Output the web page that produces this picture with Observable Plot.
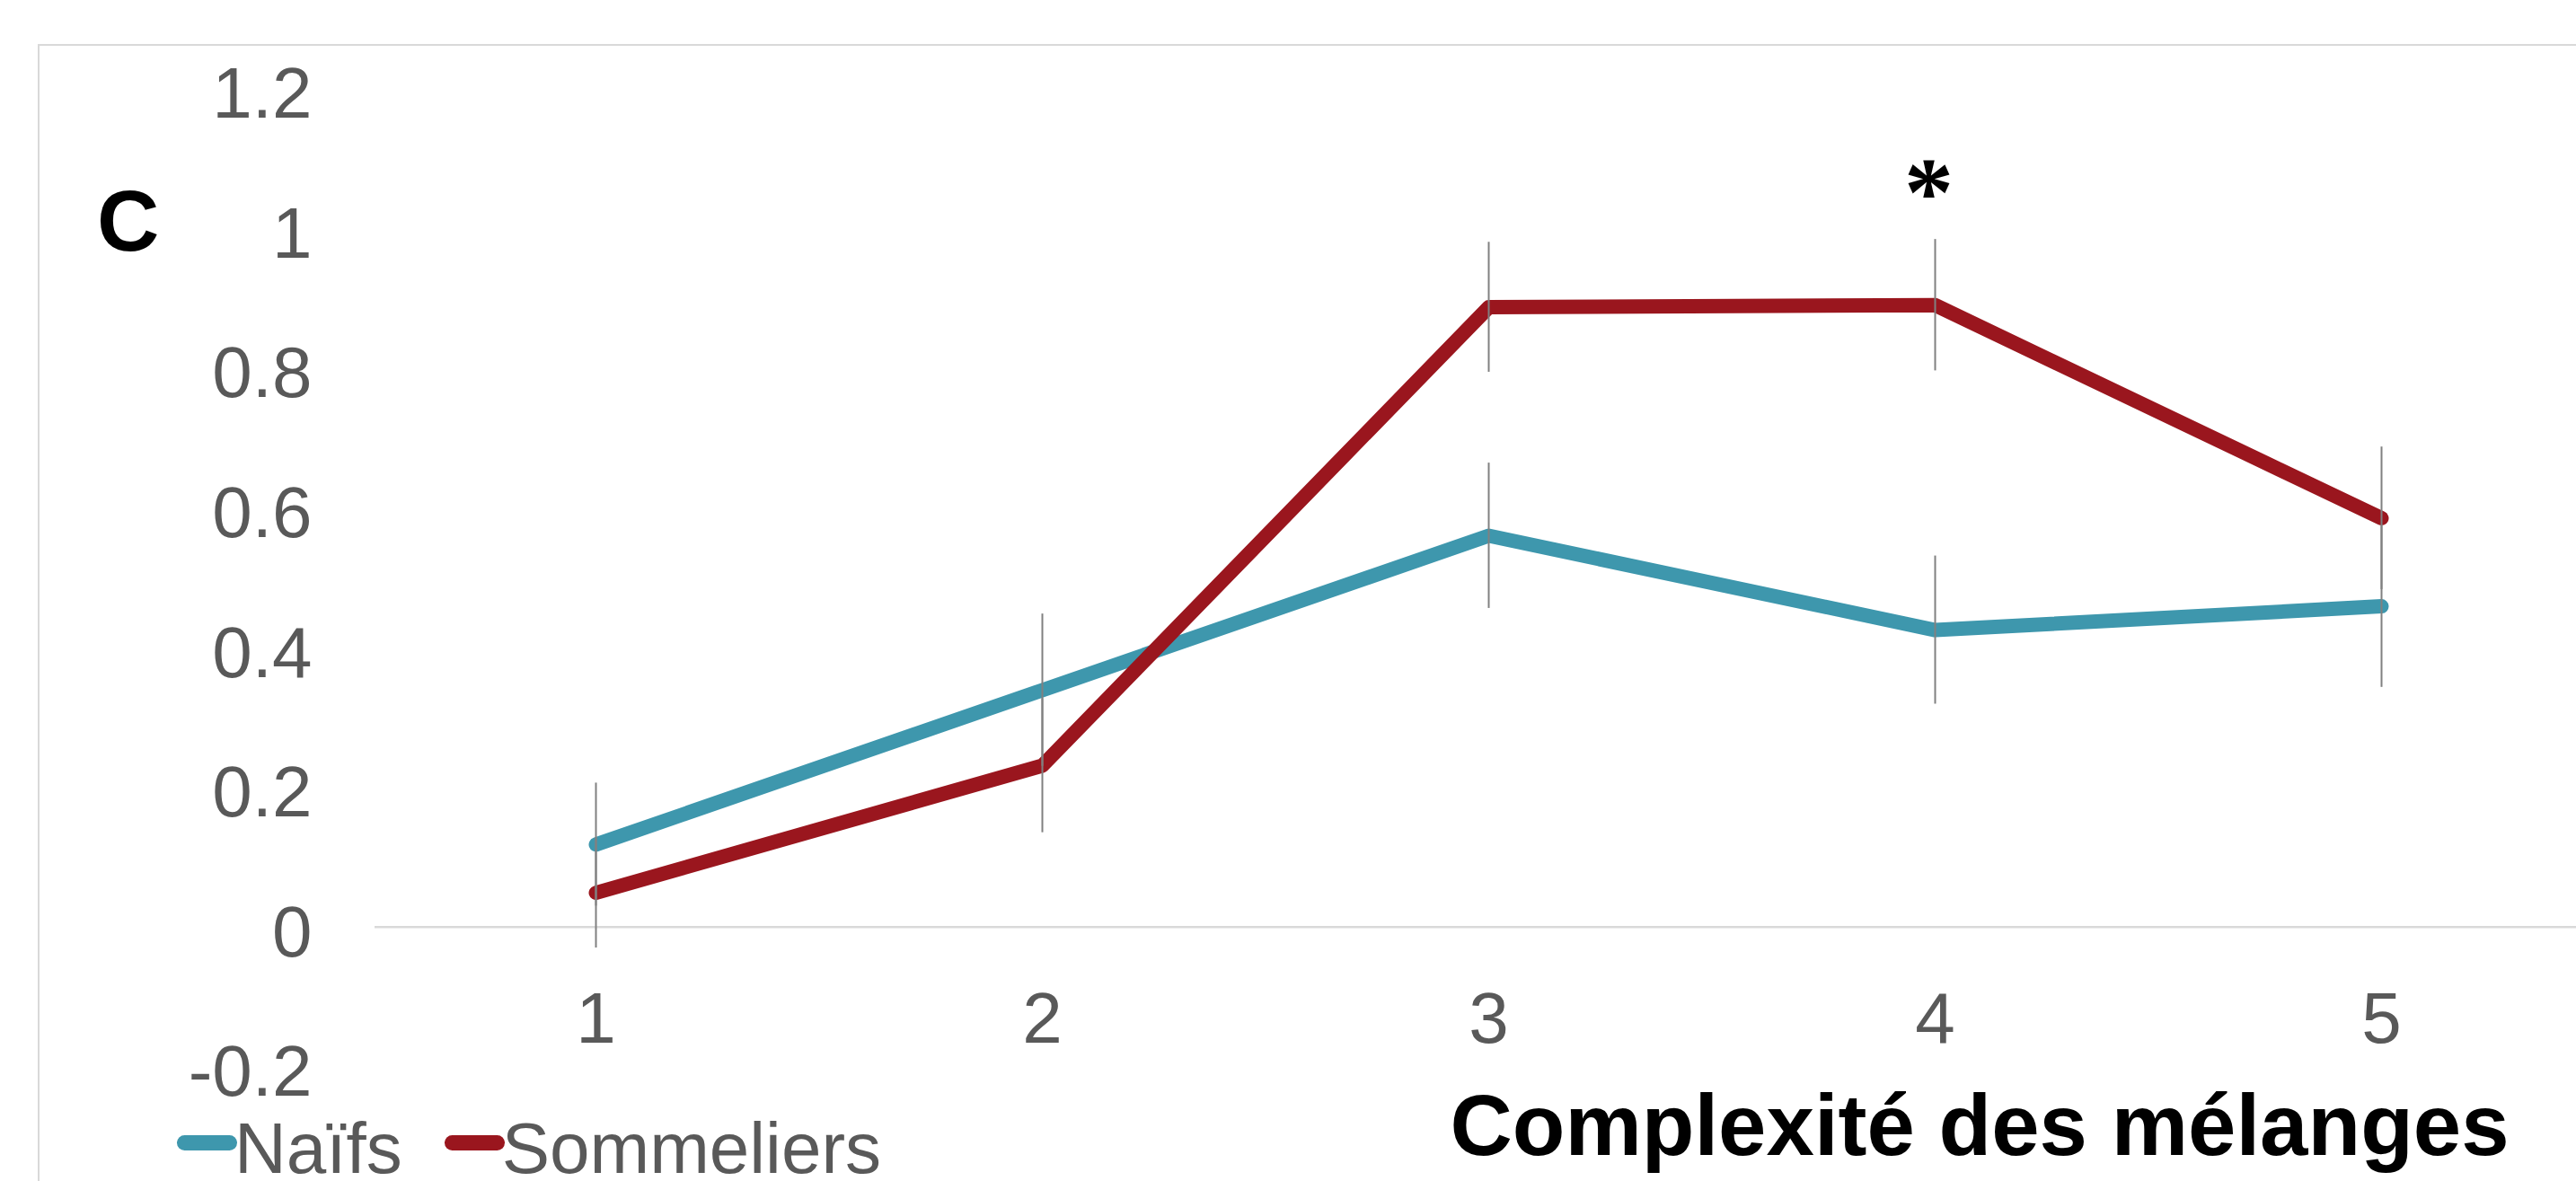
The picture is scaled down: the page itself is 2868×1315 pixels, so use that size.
<!DOCTYPE html>
<html>
<head>
<meta charset="utf-8">
<script src="https://cdn.jsdelivr.net/npm/d3@7"></script>
<script src="https://cdn.jsdelivr.net/npm/@observablehq/plot@0.6"></script>
<style>
  html, body { margin: 0; padding: 0; background: #fff; overflow: hidden; }
  #wrap { position: relative; width: 2868px; height: 1315px; overflow: hidden; background: #fff; font-family: "Liberation Sans", Arial, sans-serif; }
  #frame { position: absolute; left: 42px; top: 49px; width: 4000px; height: 4000px; border-left: 2px solid #D9D9D9; border-top: 2px solid #D9D9D9; }
  #chart { position: absolute; left: 0; top: 0; }
  #panel { position: absolute; left: 108px; top: 198px; font-size: 96px; font-weight: bold; line-height: 1; color: #000; }
  #xtitle { position: absolute; left: 1504px; width: 1400px; top: 1205px; text-align: center; font-size: 96px; font-weight: bold; line-height: 1; color: #000; white-space: nowrap; }
  #legend { position: absolute; left: 197px; top: 1247px; display: flex; align-items: center; font-size: 80px; line-height: 64px; height: 64px; color: #595959; white-space: nowrap; }
  .item { display: flex; align-items: center; }
  .sw { display: inline-block; width: 67px; height: 17px; border-radius: 9px; margin-right: -3px; position: relative; top: -7px; }
  .gap { display: inline-block; width: 47px; }
</style>
</head>
<body>
<div id="wrap">
  <div id="frame"></div>
  <div id="chart"></div>
  <div id="panel">C</div>
  <div id="xtitle">Complexité des mélanges</div>
  <div id="legend"></div>
</div>
<script>
// ---- data ----
const categories = [1, 2, 3, 4, 5];
const seriesNames = ["Naïfs", "Sommeliers"];
const seriesColors = ["#3E97AD", "#9A161E"];
const naifs = [0.118, 0.339, 0.560, 0.425, 0.459];
const naifsErr = [0.088, 0.109, 0.104, 0.106, 0.116];
const sommeliers = [0.049, 0.231, 0.887, 0.890, 0.585];
const sommeliersErr = [0.079, 0.096, 0.093, 0.094, 0.102];
const yTicks = [-0.2, 0, 0.2, 0.4, 0.6, 0.8, 1, 1.2];
const yTickLabels = ["-0.2", "0", "0.2", "0.4", "0.6", "0.8", "1", "1.2"];
const annotations = [{complexity: 4, value: 1.05, label: "*"}];
const xTitle = "Complexité des mélanges";

// ---- build rows ----
const rows = [];
[naifs, sommeliers].forEach((vals, s) => {
  const errs = s === 0 ? naifsErr : sommeliersErr;
  categories.forEach((c, i) => rows.push({series: seriesNames[s], complexity: c, value: vals[i], err: errs[i]}));
});

const W = 2868, H = 1315;
const zeroY = 1031.7;

const chart = Plot.plot({
  width: W,
  height: H,
  marginLeft: 417,
  marginRight: 0,
  marginTop: 0,
  marginBottom: H - zeroY,
  style: {fontFamily: "'Liberation Sans', Arial, sans-serif", background: "transparent", overflow: "visible"},
  x: {type: "linear", domain: [0.5, 5.5], range: [414.5, 2899.5]},
  y: {domain: [-0.2, 1.2], range: [1187.3, 98.1]},
  color: {domain: seriesNames, range: seriesColors},
  marks: [
    Plot.ruleY([0], {stroke: "#D9D9D9", strokeWidth: 2.5}),
    Plot.lineY(rows, {x: "complexity", y: "value", z: "series", stroke: "series", strokeWidth: 16, strokeLinecap: "round", strokeLinejoin: "round"}),
    Plot.ruleX(rows, {x: "complexity", y1: d => d.value - d.err, y2: d => d.value + d.err, stroke: "#808080", strokeWidth: 2}),
    Plot.text(annotations, {x: "complexity", y: "value", text: "label", fontSize: 110, fontWeight: "bold", fontFamily: "'Liberation Serif', serif", fill: "#000", dx: -7}),
    Plot.axisY(yTicks, {anchor: "left", tickSize: 0, tickPadding: 70, fontSize: 80, fill: "#595959", dy: 7, label: null,
      tickFormat: d => yTickLabels[yTicks.indexOf(d)]}),
    Plot.axisX(categories, {anchor: "bottom", tickSize: 0, tickPadding: 72, fontSize: 80, fill: "#595959", label: null,
      tickFormat: d => String(d)})
  ]
});
document.getElementById("chart").appendChild(chart);

// ---- legend ----
const legend = document.getElementById("legend");
seriesNames.forEach((name, i) => {
  if (i > 0) { const g = document.createElement("span"); g.className = "gap"; legend.appendChild(g); }
  const item = document.createElement("span");
  item.className = "item";
  const sw = document.createElement("span");
  sw.className = "sw";
  sw.style.background = seriesColors[i];
  const t = document.createElement("span");
  t.textContent = name;
  item.appendChild(sw);
  item.appendChild(t);
  legend.appendChild(item);
});
document.getElementById("xtitle").textContent = xTitle;
</script>
</body>
</html>
